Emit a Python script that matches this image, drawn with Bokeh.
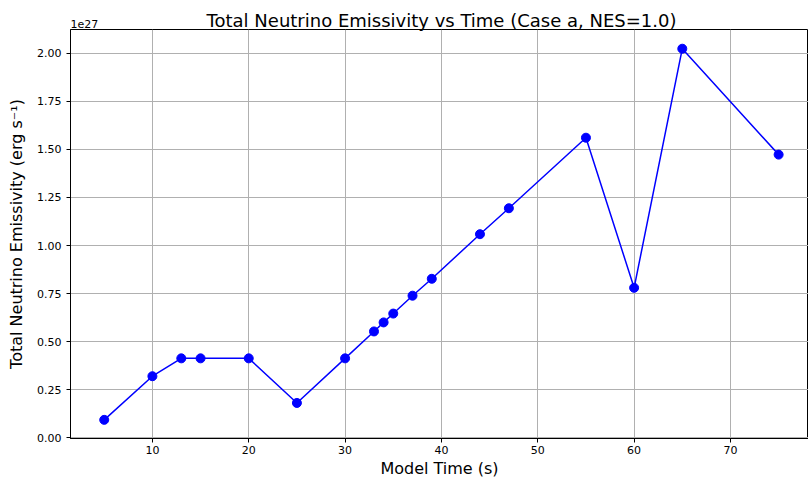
from bokeh.plotting import figure
from bokeh.models import Range1d, FixedTicker, NumeralTickFormatter, Label
from bokeh.embed import file_html
from bokeh.resources import INLINE

title_text = "Total Neutrino Emissivity vs Time (Case a, NES=1.0)"
time_s = [5, 10, 13, 15, 20, 25, 30, 33, 34, 35, 37, 39, 44, 47, 55, 60, 65, 75]
emissivity_1e27 = [0.093, 0.32, 0.413, 0.413, 0.413, 0.181, 0.413, 0.553, 0.60, 0.646,
                   0.739, 0.827, 1.059, 1.194, 1.561, 0.78, 2.024, 1.473]
x_ticks = [10, 20, 30, 40, 50, 60, 70]
y_ticks = [0.0, 0.25, 0.5, 0.75, 1.0, 1.25, 1.5, 1.75, 2.0]

FONT = "DejaVu Sans"

p = figure(width=808, height=481, output_backend="svg", toolbar_location=None,
           x_range=Range1d(1.5, 78.1), y_range=Range1d(-0.004, 2.124),
           min_border_left=70, min_border_right=0, min_border_top=26, min_border_bottom=43)

p.line(time_s, emissivity_1e27, line_color="#0000ff", line_width=1.5)
p.scatter(time_s, emissivity_1e27, size=9, fill_color="#0000ff", line_color="#0000ff")

for ax in (p.xaxis, p.yaxis):
    ax.axis_label_text_font = FONT
    ax.axis_label_text_font_size = "16px"
    ax.axis_label_text_font_style = "normal"
    ax.axis_label_text_color = "black"
    ax.major_label_text_font = FONT
    ax.major_label_text_font_size = "11px"
    ax.major_label_text_color = "black"
    ax.minor_tick_line_color = None
    ax.major_tick_in = 0
    ax.major_tick_out = 4
    ax.axis_line_color = "black"

p.xaxis.axis_label = "Model Time (s)"
p.yaxis.axis_label = "Total Neutrino Emissivity (erg s\u207b\u00b9)"
p.xaxis.ticker = FixedTicker(ticks=x_ticks)
p.yaxis.ticker = FixedTicker(ticks=y_ticks)
p.yaxis.formatter = NumeralTickFormatter(format="0.00")
p.xaxis.major_label_standoff = 3
p.xaxis.axis_label_standoff = 2
p.yaxis.axis_label_standoff = 8

p.xgrid.ticker = FixedTicker(ticks=x_ticks)
p.ygrid.ticker = FixedTicker(ticks=y_ticks)
p.grid.grid_line_color = "#b0b0b0"
p.grid.grid_line_width = 1

p.outline_line_color = "black"
p.outline_line_width = 1
p.outline_line_alpha = 1

p.add_layout(Label(x=441, y=20, x_units="canvas", y_units="canvas", text=title_text,
                   text_align="center", text_baseline="alphabetic",
                   text_font=FONT, text_font_size="18px", text_color="black"), "above")
p.add_layout(Label(x=70, y=23, x_units="canvas", y_units="canvas", text="1e27",
                   text_baseline="alphabetic",
                   text_font=FONT, text_font_size="11px", text_color="black"), "above")

open("out.html", "w").write(file_html(p, INLINE))
